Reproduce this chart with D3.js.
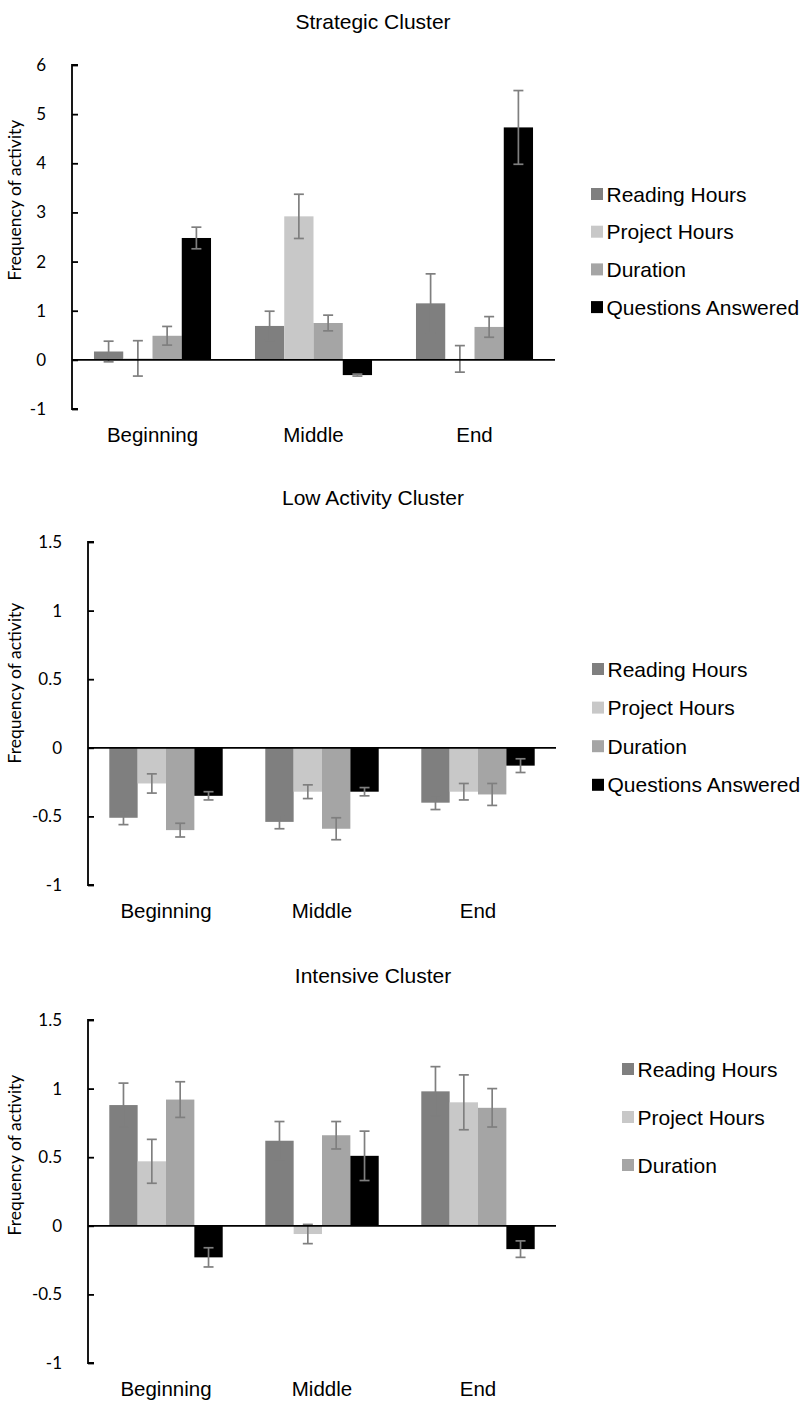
<!DOCTYPE html>
<html>
<head>
<meta charset="utf-8">
<script src="https://cdn.jsdelivr.net/npm/d3@7"></script>
<style>
  body { margin: 0; background: #fff; }
  svg { display: block; }
</style>
</head>
<body>
<script>
const categories = ["Beginning", "Middle", "End"];
const seriesNames = ["Reading Hours", "Project Hours", "Duration", "Questions Answered"];

// means per series (rows) for each stage (columns)
const strategicMeans = [
    [0.17, 0.69, 1.15],
    [0.03, 2.92, 0.02],
    [0.49, 0.75, 0.67],
    [2.48, -0.31, 4.73]
];
const strategicErrors = [
    [0.21, 0.30, 0.60],
    [0.36, 0.45, 0.27],
    [0.19, 0.16, 0.21],
    [0.22, 0.02, 0.75]
];
const lowMeans = [
    [-0.51, -0.54, -0.40],
    [-0.26, -0.32, -0.32],
    [-0.60, -0.59, -0.34],
    [-0.35, -0.32, -0.13]
];
const lowErrors = [
    [0.05, 0.05, 0.05],
    [0.07, 0.05, 0.06],
    [0.05, 0.08, 0.08],
    [0.03, 0.03, 0.05]
];
const intensiveMeans = [
    [0.88, 0.62, 0.98],
    [0.47, -0.06, 0.90],
    [0.92, 0.66, 0.86],
    [-0.23, 0.51, -0.17]
];
const intensiveErrors = [
    [0.16, 0.14, 0.18],
    [0.16, 0.07, 0.20],
    [0.13, 0.10, 0.14],
    [0.07, 0.18, 0.06]
];
const strategicTicks = [-1, 0, 1, 2, 3, 4, 5, 6];
const smallTicks = [-1, -0.5, 0, 0.5, 1, 1.5];

const colors = ["#7f7f7f", "#c8c8c8", "#a5a5a5", "#000000"];
const errColor = "#7f7f7f";
const tickFont = "Lato, 'Open Sans', sans-serif";
const textFont = "'Liberation Sans', Arial, sans-serif";

const svg = d3.select("body").append("svg")
    .attr("width", 806)
    .attr("height", 1405);

function drawChart(cfg) {
    const g = svg.append("g");

    const y = d3.scaleLinear().domain(cfg.domain).range([cfg.bottom, cfg.top]);
    const x = d3.scaleBand().domain(categories).range([cfg.left, cfg.right])
        .paddingInner(0.273).paddingOuter(0.1365);
    const xs = d3.scaleBand().domain(d3.range(4)).range([0, x.bandwidth()]);

    // title
    g.append("text")
        .attr("x", 373).attr("y", cfg.titleY)
        .attr("text-anchor", "middle")
        .style("font-family", textFont).style("font-size", "21px")
        .text(cfg.title);

    // y axis label
    g.append("text")
        .attr("transform", `translate(21,${cfg.labelY}) rotate(-90)`)
        .attr("text-anchor", "middle")
        .style("font-family", tickFont).style("font-size", "17.5px")
        .text("Frequency of activity");

    const rows = [];
    cfg.means.forEach((s, i) => s.forEach((v, j) => {
        rows.push({ series: i, cat: categories[j], v: v, e: cfg.errors[i][j] });
    }));

    // bars
    g.append("g").selectAll("rect")
        .data(rows)
        .join("rect")
        .attr("x", d => x(d.cat) + xs(d.series))
        .attr("width", xs.bandwidth())
        .attr("y", d => y(Math.max(0, d.v)))
        .attr("height", d => Math.abs(y(d.v) - y(0)))
        .attr("fill", d => colors[d.series]);

    // error bars
    const eb = g.append("g").attr("stroke", errColor).attr("stroke-width", 1.7);
    rows.forEach(d => {
        const cx = x(d.cat) + xs(d.series) + xs.bandwidth() / 2;
        const y1 = y(d.v + d.e), y2 = y(d.v - d.e);
        eb.append("line").attr("x1", cx).attr("x2", cx).attr("y1", y1).attr("y2", y2);
        eb.append("line").attr("x1", cx - 5).attr("x2", cx + 5).attr("y1", y1).attr("y2", y1);
        eb.append("line").attr("x1", cx - 5).attr("x2", cx + 5).attr("y1", y2).attr("y2", y2);
    });

    // y axis with inward ticks
    const ya = g.append("g")
        .attr("transform", `translate(${cfg.left},0)`)
        .call(d3.axisLeft(y).tickValues(cfg.ticks).tickSize(-6).tickPadding(26)
            .tickFormat(d => String(d)));
    ya.selectAll("path, line").attr("stroke", "#000").attr("stroke-width", 1.8);
    ya.select(".domain").attr("d", `M6,${cfg.top}H0V${cfg.bottom}H6`);
    ya.selectAll("text").style("font-family", tickFont).style("font-size", "17px").attr("fill", "#000");

    // zero line
    g.append("line")
        .attr("x1", cfg.left).attr("x2", cfg.right)
        .attr("y1", y(0)).attr("y2", y(0))
        .attr("stroke", "#000").attr("stroke-width", 1.8);

    // category labels
    g.append("g").selectAll("text")
        .data(categories)
        .join("text")
        .attr("x", d => x(d) + x.bandwidth() / 2)
        .attr("y", cfg.bottom + 33)
        .attr("text-anchor", "middle")
        .style("font-family", textFont).style("font-size", "20.5px")
        .text(d => d);

    // legend
    const lg = g.append("g").selectAll("g")
        .data(cfg.legend)
        .join("g")
        .attr("transform", (d, i) => `translate(${cfg.legendX},${cfg.legendY + i * cfg.legendStep})`);
    lg.append("rect").attr("x", 0).attr("y", -6).attr("width", 12).attr("height", 12)
        .attr("fill", (d, i) => colors[i]);
    lg.append("text").attr("x", 15.5).attr("y", 7.5)
        .style("font-family", textFont).style("font-size", "21px")
        .text(d => d);
}

drawChart({
    title: "Strategic Cluster", titleY: 29, labelY: 200,
    means: strategicMeans, errors: strategicErrors,
    domain: [-1, 6], ticks: strategicTicks,
    top: 65, bottom: 409, left: 72, right: 555,
    legend: seriesNames, legendX: 591, legendY: 194, legendStep: 37.7
});

drawChart({
    title: "Low Activity Cluster", titleY: 505, labelY: 683,
    means: lowMeans, errors: lowErrors,
    domain: [-1, 1.5], ticks: smallTicks,
    top: 542, bottom: 885, left: 88, right: 556,
    legend: seriesNames, legendX: 592, legendY: 669, legendStep: 38.6
});

drawChart({
    title: "Intensive Cluster", titleY: 983, labelY: 1155,
    means: intensiveMeans, errors: intensiveErrors,
    domain: [-1, 1.5], ticks: smallTicks,
    top: 1020, bottom: 1363, left: 88, right: 556,
    legend: seriesNames.slice(0, 3), legendX: 622, legendY: 1069, legendStep: 48
});
</script>
</body>
</html>
